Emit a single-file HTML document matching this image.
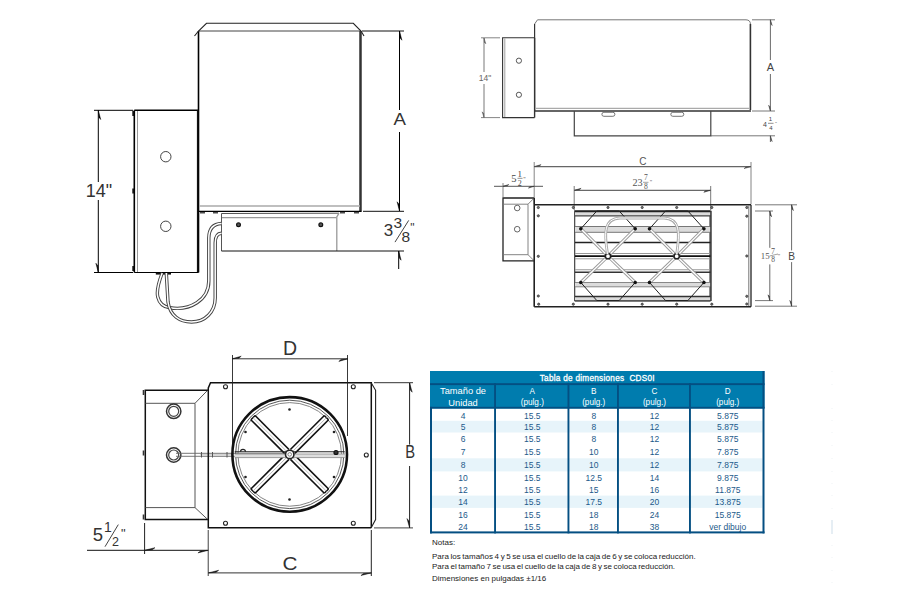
<!DOCTYPE html><html><head><meta charset="utf-8"><style>html,body{margin:0;padding:0;background:#fff;width:900px;height:598px;overflow:hidden}svg{display:block;font-family:"Liberation Sans",sans-serif}</style></head><body>
<svg width="900" height="598" viewBox="0 0 900 598">
<line x1="198.5" y1="31" x2="198.5" y2="272.5" stroke="#000" stroke-width="1.6" />
<line x1="360.5" y1="31" x2="360.5" y2="211.5" stroke="#333" stroke-width="2.5" />
<line x1="198.5" y1="31" x2="361" y2="31" stroke="#444" stroke-width="1" />
<path d="M194.5,36 L198.5,31 L206.5,23.3 L353.3,23.3 L361,31 L364,36" stroke="#222" stroke-width="1.1" fill="none" />
<line x1="199" y1="206" x2="360" y2="206" stroke="#aaa" stroke-width="1.5" />
<line x1="198" y1="211.4" x2="361.5" y2="211.4" stroke="#000" stroke-width="1.4" />
<line x1="200" y1="212.8" x2="205" y2="212.8" stroke="#222" stroke-width="1.2" />
<line x1="213" y1="212.8" x2="218" y2="212.8" stroke="#222" stroke-width="1.2" />
<line x1="340" y1="212.8" x2="345" y2="212.8" stroke="#222" stroke-width="1.2" />
<line x1="354" y1="212.8" x2="359" y2="212.8" stroke="#222" stroke-width="1.2" />
<path d="M221.5,251 L221.5,213.5 L339,213.2" stroke="#555" stroke-width="1" fill="none" />
<path d="M339,213.2 L336.8,217 L336.8,251" stroke="#999" stroke-width="1.3" fill="none" />
<line x1="222" y1="217.6" x2="336.5" y2="217.6" stroke="#999" stroke-width="1.3" />
<line x1="221.5" y1="251" x2="404" y2="251" stroke="#111" stroke-width="1" />
<circle cx="238.5" cy="224.8" r="1.9" stroke="#111" stroke-width="1.2" fill="#555"/>
<circle cx="320.8" cy="224.8" r="1.9" stroke="#111" stroke-width="1.2" fill="#555"/>
<line x1="363" y1="211.3" x2="404" y2="211.3" stroke="#111" stroke-width="1" />
<line x1="362" y1="31" x2="404" y2="31" stroke="#111" stroke-width="1" />
<line x1="399.5" y1="31" x2="399.5" y2="110" stroke="#000" stroke-width="1" />
<line x1="399.5" y1="132" x2="399.5" y2="211" stroke="#000" stroke-width="1" />
<polygon points="399.50,31.00 401.90,40.20 400.10,37.90" fill="#000" stroke="#000" stroke-width="0.5"/>
<polygon points="399.50,211.00 397.10,201.80 398.90,204.10" fill="#000" stroke="#000" stroke-width="0.5"/>
<g transform="translate(399.7,124.5) scale(1.08,1)"><text x="0" y="0" font-size="17.3" fill="#333" text-anchor="middle">A</text></g>
<line x1="398.7" y1="251" x2="398.7" y2="269" stroke="#000" stroke-width="1" />
<polygon points="398.70,251.00 401.10,260.20 399.30,257.90" fill="#000" stroke="#000" stroke-width="0.5"/>
<text x="388.6" y="236.4" font-size="17" fill="#333" text-anchor="middle" >3</text>
<text x="397.9" y="228.4" font-size="15.5" fill="#333" text-anchor="middle" >3</text>
<text x="405.9" y="242.4" font-size="15.5" fill="#333" text-anchor="middle" >8</text>
<line x1="395" y1="242.1" x2="408.7" y2="220.4" stroke="#444" stroke-width="1" />
<text x="412.5" y="232" font-size="12" fill="#333" text-anchor="middle" >"</text>
<line x1="134.3" y1="110.3" x2="198.5" y2="110.3" stroke="#000" stroke-width="1.4" />
<line x1="197.6" y1="110.3" x2="197.6" y2="272.5" stroke="#111" stroke-width="1.4" />
<line x1="134.3" y1="110.3" x2="134.3" y2="272.5" stroke="#000" stroke-width="1.6" />
<line x1="137.5" y1="111" x2="137.5" y2="272" stroke="#999" stroke-width="1" />
<line x1="134.3" y1="272.5" x2="198.5" y2="272.5" stroke="#000" stroke-width="1.2" />
<circle cx="165.8" cy="156.7" r="5.2" stroke="#444" stroke-width="1" fill="none"/>
<circle cx="165.8" cy="226.3" r="5.2" stroke="#444" stroke-width="1" fill="none"/>
<line x1="155.8" y1="273.8" x2="171" y2="273.8" stroke="#111" stroke-width="1.6" />
<line x1="133.2" y1="111.0" x2="133.2" y2="116.0" stroke="#111" stroke-width="1.8" />
<line x1="133.2" y1="188.5" x2="133.2" y2="193.5" stroke="#111" stroke-width="1.8" />
<line x1="133.2" y1="266.0" x2="133.2" y2="271.0" stroke="#111" stroke-width="1.8" />
<line x1="98.3" y1="110.3" x2="98.3" y2="182" stroke="#000" stroke-width="1" />
<line x1="98.3" y1="200" x2="98.3" y2="272.5" stroke="#000" stroke-width="1" />
<polygon points="98.30,110.30 100.70,119.50 98.90,117.20" fill="#000" stroke="#000" stroke-width="0.5"/>
<polygon points="98.30,272.50 95.90,263.30 97.70,265.60" fill="#000" stroke="#000" stroke-width="0.5"/>
<line x1="94" y1="110.3" x2="133" y2="110.3" stroke="#000" stroke-width="1" />
<line x1="94" y1="272.5" x2="133" y2="272.5" stroke="#000" stroke-width="1" />
<text x="99" y="197" font-size="18" fill="#333" text-anchor="middle" >14"</text>
<path d="M162.2,273 C158,284 156.5,292 157.8,297 C159.5,304 163,307 170,307.8 C190,311 208.8,300 208.8,281 L208.8,238 Q209,224 221.5,223.5" stroke="#444" stroke-width="3.4" fill="none" stroke-linecap="butt"/>
<path d="M162.2,273 C158,284 156.5,292 157.8,297 C159.5,304 163,307 170,307.8 C190,311 208.8,300 208.8,281 L208.8,238 Q209,224 221.5,223.5" stroke="#fff" stroke-width="1.5" fill="none" stroke-linecap="butt"/>
<path d="M166.3,273 L168,302 C170,316 180,322 191.5,322 C205,322 215.2,312 215.2,298 L215.2,243 Q215.2,233.5 221.5,233.3" stroke="#444" stroke-width="3.4" fill="none" stroke-linecap="butt"/>
<path d="M166.3,273 L168,302 C170,316 180,322 191.5,322 C205,322 215.2,312 215.2,298 L215.2,243 Q215.2,233.5 221.5,233.3" stroke="#fff" stroke-width="1.5" fill="none" stroke-linecap="butt"/>
<path d="M534.6,37.8 L502.6,37.8 L502.6,117.6 L534.6,117.6" stroke="#333" stroke-width="1.1" fill="none" />
<line x1="534.6" y1="37.8" x2="534.6" y2="117.6" stroke="#333" stroke-width="1.4" />
<line x1="504.8" y1="38.5" x2="504.8" y2="117" stroke="#888" stroke-width="0.8" />
<circle cx="518.9" cy="60.7" r="2.6" stroke="#444" stroke-width="0.9" fill="none"/>
<circle cx="518.9" cy="94.8" r="2.6" stroke="#444" stroke-width="0.9" fill="none"/>
<line x1="484" y1="38" x2="484" y2="72" stroke="#555" stroke-width="0.8" />
<line x1="484" y1="84" x2="484" y2="117.6" stroke="#555" stroke-width="0.8" />
<polygon points="484.00,38.00 485.80,43.75 484.45,42.31" fill="#555" stroke="#555" stroke-width="0.5"/>
<polygon points="484.00,117.60 482.20,111.85 483.55,113.29" fill="#555" stroke="#555" stroke-width="0.5"/>
<line x1="481" y1="37.8" x2="500" y2="37.8" stroke="#666" stroke-width="0.8" />
<line x1="481" y1="117.6" x2="500" y2="117.6" stroke="#666" stroke-width="0.8" />
<text x="485" y="81" font-size="8.5" fill="#666" text-anchor="middle" >14"</text>
<path d="M534.6,24 L537.5,19.8 L746,19.8 Q750.4,20 750.4,24" stroke="#777" stroke-width="1" fill="none" />
<line x1="534.6" y1="24" x2="534.6" y2="111" stroke="#333" stroke-width="1.2" />
<line x1="750.4" y1="24" x2="750.4" y2="110" stroke="#333" stroke-width="1.6" />
<line x1="535.5" y1="108.4" x2="749.5" y2="108.4" stroke="#aaa" stroke-width="1.3" />
<line x1="534.6" y1="111" x2="751" y2="111" stroke="#333" stroke-width="1.3" />
<path d="M574.3,111 L574.3,135.8 L710.8,135.8 L710.8,111" stroke="#444" stroke-width="1.2" fill="none" />
<rect x="601.9" y="112.3" width="13" height="4" rx="2" fill="none" stroke="#666" stroke-width="0.9"/>
<rect x="670.8" y="112.3" width="13" height="4" rx="2" fill="none" stroke="#666" stroke-width="0.9"/>
<line x1="752" y1="19.8" x2="775" y2="19.8" stroke="#555" stroke-width="0.8" />
<line x1="752" y1="111" x2="775" y2="111" stroke="#555" stroke-width="0.8" />
<line x1="711" y1="135.8" x2="775" y2="135.8" stroke="#555" stroke-width="0.8" />
<line x1="770.4" y1="19.8" x2="770.4" y2="60" stroke="#444" stroke-width="0.8" />
<line x1="770.4" y1="74" x2="770.4" y2="111" stroke="#444" stroke-width="0.8" />
<polygon points="770.40,19.80 772.20,25.55 770.85,24.11" fill="#444" stroke="#444" stroke-width="0.5"/>
<polygon points="770.40,111.00 768.60,105.25 769.95,106.69" fill="#444" stroke="#444" stroke-width="0.5"/>
<text x="770.4" y="71" font-size="11" fill="#444" text-anchor="middle" >A</text>
<line x1="770.4" y1="135.8" x2="770.4" y2="142" stroke="#444" stroke-width="0.8" />
<polygon points="770.40,135.80 772.20,141.55 770.85,140.11" fill="#444" stroke="#444" stroke-width="0.5"/>
<text x="765" y="126.5" font-size="7" fill="#444" text-anchor="middle" >4</text>
<text x="770.5" y="121" font-size="6" fill="#444" text-anchor="middle" >1</text>
<line x1="768" y1="123.3" x2="773.5" y2="123.3" stroke="#444" stroke-width="0.6" />
<text x="771" y="129.5" font-size="6" fill="#444" text-anchor="middle" >4</text>
<text x="776" y="124" font-size="6" fill="#444" text-anchor="middle" >-</text>
<path d="M534.2,198 L503,198 L503,260.8 L534.2,260.8" stroke="#222" stroke-width="1.3" fill="none" />
<path d="M503,204.2 L528,204.2 L534.2,198 M528,204.2 L528,254.7 L534.2,260.8 M503,254.7 L528,254.7" stroke="#777" stroke-width="0.9" fill="none" />
<circle cx="517.2" cy="208" r="2.8" stroke="#555" stroke-width="0.9" fill="none"/>
<circle cx="517.2" cy="229.2" r="2.8" stroke="#555" stroke-width="0.9" fill="none"/>
<line x1="494" y1="186.3" x2="543" y2="186.3" stroke="#444" stroke-width="0.9" />
<line x1="503" y1="183" x2="503" y2="197" stroke="#666" stroke-width="0.8" />
<line x1="534.2" y1="162" x2="534.2" y2="204" stroke="#666" stroke-width="0.8" />
<polygon points="503.00,186.30 508.75,184.50 507.31,185.85" fill="#333" stroke="#333" stroke-width="0.5"/>
<polygon points="534.20,186.30 528.45,188.10 529.89,186.75" fill="#333" stroke="#333" stroke-width="0.5"/>
<g font-family="Liberation Serif" fill="#444">
<text x="513.8" y="182.2" font-size="10.5" fill="#444" text-anchor="middle" >5</text>
<text x="519.8" y="177.3" font-size="9" fill="#444" text-anchor="middle" >1</text>
<line x1="517.5" y1="178.3" x2="522.5" y2="178.3" stroke="#444" stroke-width="0.6" />
<text x="519.8" y="185.5" font-size="8" fill="#444" text-anchor="middle" >2</text>
<text x="524.5" y="181" font-size="6" fill="#444" text-anchor="middle" >"</text>
</g>
<line x1="534.2" y1="166.6" x2="751" y2="166.6" stroke="#666" stroke-width="1.1" />
<polygon points="534.20,166.60 541.10,164.60 539.38,166.10" fill="#444" stroke="#444" stroke-width="0.5"/>
<polygon points="751.00,166.60 744.10,168.60 745.83,167.10" fill="#444" stroke="#444" stroke-width="0.5"/>
<line x1="751" y1="162" x2="751" y2="204" stroke="#666" stroke-width="0.8" />
<text x="642.8" y="164.7" font-size="10" fill="#555" text-anchor="middle" >C</text>
<line x1="574.2" y1="190.3" x2="710.7" y2="190.3" stroke="#444" stroke-width="1" />
<polygon points="574.20,190.30 581.10,188.30 579.38,189.80" fill="#333" stroke="#333" stroke-width="0.5"/>
<polygon points="710.70,190.30 703.80,192.30 705.53,190.80" fill="#333" stroke="#333" stroke-width="0.5"/>
<line x1="574.2" y1="186" x2="574.2" y2="210" stroke="#555" stroke-width="0.8" />
<line x1="710.7" y1="186" x2="710.7" y2="210" stroke="#555" stroke-width="0.8" />
<g font-family="Liberation Serif">
<text x="637.6" y="186" font-size="10.2" fill="#555" text-anchor="middle" >23</text>
<text x="646" y="180.2" font-size="7.6" fill="#555" text-anchor="middle" >7</text>
<line x1="643" y1="182.3" x2="648.5" y2="182.3" stroke="#666" stroke-width="0.6" />
<text x="646" y="188.7" font-size="7.6" fill="#555" text-anchor="middle" >8</text>
<text x="651" y="184" font-size="6" fill="#555" text-anchor="middle" >"</text>
</g>
<line x1="534.2" y1="204.8" x2="751" y2="204.8" stroke="#222" stroke-width="1.4" />
<line x1="534.2" y1="306.8" x2="751" y2="306.8" stroke="#222" stroke-width="1.4" />
<line x1="534.2" y1="198" x2="534.2" y2="306.8" stroke="#222" stroke-width="1.6" />
<line x1="751" y1="204.8" x2="751" y2="306.8" stroke="#222" stroke-width="1.3" />
<line x1="748.8" y1="205.5" x2="748.8" y2="306" stroke="#666" stroke-width="0.9" />
<circle cx="538.3" cy="207.5" r="1.1" stroke="#333" stroke-width="0.8" fill="#777"/>
<circle cx="538.3" cy="215.8" r="1.1" stroke="#333" stroke-width="0.8" fill="#777"/>
<circle cx="538.3" cy="256.3" r="1.1" stroke="#333" stroke-width="0.8" fill="#777"/>
<circle cx="538.3" cy="296" r="1.1" stroke="#333" stroke-width="0.8" fill="#777"/>
<circle cx="538.7" cy="304.2" r="1.1" stroke="#333" stroke-width="0.8" fill="#777"/>
<circle cx="573.3" cy="207.5" r="1.1" stroke="#333" stroke-width="0.8" fill="#777"/>
<circle cx="608" cy="207.5" r="1.1" stroke="#333" stroke-width="0.8" fill="#777"/>
<circle cx="642.2" cy="207.5" r="1.1" stroke="#333" stroke-width="0.8" fill="#777"/>
<circle cx="676.7" cy="207.5" r="1.1" stroke="#333" stroke-width="0.8" fill="#777"/>
<circle cx="711.8" cy="207.5" r="1.1" stroke="#333" stroke-width="0.8" fill="#777"/>
<circle cx="746.8" cy="207.5" r="1.1" stroke="#333" stroke-width="0.8" fill="#777"/>
<circle cx="746.8" cy="216.2" r="1.1" stroke="#333" stroke-width="0.8" fill="#777"/>
<circle cx="746.8" cy="256" r="1.1" stroke="#333" stroke-width="0.8" fill="#777"/>
<circle cx="746.8" cy="296.3" r="1.1" stroke="#333" stroke-width="0.8" fill="#777"/>
<circle cx="746.8" cy="304" r="1.1" stroke="#333" stroke-width="0.8" fill="#777"/>
<circle cx="573.3" cy="304.2" r="1.1" stroke="#333" stroke-width="0.8" fill="#777"/>
<circle cx="608" cy="304.2" r="1.1" stroke="#333" stroke-width="0.8" fill="#777"/>
<circle cx="642.2" cy="304.2" r="1.1" stroke="#333" stroke-width="0.8" fill="#777"/>
<circle cx="676.7" cy="304.2" r="1.1" stroke="#333" stroke-width="0.8" fill="#777"/>
<circle cx="711.8" cy="304.2" r="1.1" stroke="#333" stroke-width="0.8" fill="#777"/>
<path d="M574.7,210.8 L710,210.8 L710,300.8 L574.7,300.8 Z" stroke="#333" stroke-width="1.1" fill="none" />
<rect x="575" y="226.5" width="135.5" height="5.800000000000011" fill="#dcdcdc"/>
<rect x="575" y="282.5" width="135.5" height="4.300000000000011" fill="#dcdcdc"/>
<rect x="575" y="296.5" width="135.5" height="4.300000000000011" fill="#dcdcdc"/>
<rect x="575" y="212" width="135.5" height="3.8000000000000114" fill="#dcdcdc"/>
<line x1="575" y1="211.6" x2="710.5" y2="211.6" stroke="#222" stroke-width="1.5" />
<line x1="575" y1="215.8" x2="710.5" y2="215.8" stroke="#444" stroke-width="1.2" />
<line x1="575" y1="226.5" x2="710.5" y2="226.5" stroke="#777" stroke-width="1" />
<line x1="575" y1="232.3" x2="710.5" y2="232.3" stroke="#777" stroke-width="1" />
<line x1="575" y1="242.6" x2="710.5" y2="242.6" stroke="#222" stroke-width="1.5" />
<line x1="575" y1="253.5" x2="710.5" y2="253.5" stroke="#999" stroke-width="1" />
<line x1="575" y1="256.1" x2="710.5" y2="256.1" stroke="#111" stroke-width="1.6" />
<line x1="575" y1="258.8" x2="710.5" y2="258.8" stroke="#999" stroke-width="1" />
<line x1="575" y1="269.8" x2="710.5" y2="269.8" stroke="#999" stroke-width="1.1" />
<line x1="575" y1="272.3" x2="710.5" y2="272.3" stroke="#333" stroke-width="1.4" />
<line x1="575" y1="282.5" x2="710.5" y2="282.5" stroke="#888" stroke-width="1" />
<line x1="575" y1="286.8" x2="710.5" y2="286.8" stroke="#888" stroke-width="1" />
<line x1="575" y1="296.5" x2="710.5" y2="296.5" stroke="#333" stroke-width="1.5" />
<line x1="575" y1="300.8" x2="710.5" y2="300.8" stroke="#333" stroke-width="1.2" />
<line x1="711" y1="210.8" x2="711" y2="301" stroke="#222" stroke-width="1.3" />
<path d="M580.8,228.8 L608,256.2" stroke="#999" stroke-width="3.2" fill="none" />
<path d="M580.8,228.8 L608,256.2" stroke="#fff" stroke-width="1.3" fill="none" />
<path d="M635.2,228.8 L608,256.2" stroke="#999" stroke-width="3.2" fill="none" />
<path d="M635.2,228.8 L608,256.2" stroke="#fff" stroke-width="1.3" fill="none" />
<path d="M580.8,282.5 L608,256.2" stroke="#999" stroke-width="3.2" fill="none" />
<path d="M580.8,282.5 L608,256.2" stroke="#fff" stroke-width="1.3" fill="none" />
<path d="M635.2,282.5 L608,256.2" stroke="#999" stroke-width="3.2" fill="none" />
<path d="M635.2,282.5 L608,256.2" stroke="#fff" stroke-width="1.3" fill="none" />
<path d="M580.8,228.8 L596.8,211 L619.2,211 L635.2,228.8" stroke="#222" stroke-width="1" fill="none" />
<path d="M580.8,282.5 L596.8,300.5 L619.2,300.5 L635.2,282.5" stroke="#222" stroke-width="1" fill="none" />
<circle cx="580.8" cy="228.8" r="1.8" stroke="#000" stroke-width="0" fill="#111"/>
<circle cx="635.2" cy="228.8" r="1.8" stroke="#000" stroke-width="0" fill="#111"/>
<circle cx="580.8" cy="282.5" r="1.8" stroke="#000" stroke-width="0" fill="#111"/>
<circle cx="635.2" cy="282.5" r="1.8" stroke="#000" stroke-width="0" fill="#111"/>
<circle cx="608" cy="256.2" r="2.6" stroke="#222" stroke-width="1.5" fill="#fff"/>
<path d="M649.5,228.8 L676.7,256.2" stroke="#999" stroke-width="3.2" fill="none" />
<path d="M649.5,228.8 L676.7,256.2" stroke="#fff" stroke-width="1.3" fill="none" />
<path d="M703.9000000000001,228.8 L676.7,256.2" stroke="#999" stroke-width="3.2" fill="none" />
<path d="M703.9000000000001,228.8 L676.7,256.2" stroke="#fff" stroke-width="1.3" fill="none" />
<path d="M649.5,282.5 L676.7,256.2" stroke="#999" stroke-width="3.2" fill="none" />
<path d="M649.5,282.5 L676.7,256.2" stroke="#fff" stroke-width="1.3" fill="none" />
<path d="M703.9000000000001,282.5 L676.7,256.2" stroke="#999" stroke-width="3.2" fill="none" />
<path d="M703.9000000000001,282.5 L676.7,256.2" stroke="#fff" stroke-width="1.3" fill="none" />
<path d="M649.5,228.8 L665.5,211 L687.9000000000001,211 L703.9000000000001,228.8" stroke="#222" stroke-width="1" fill="none" />
<path d="M649.5,282.5 L665.5,300.5 L687.9000000000001,300.5 L703.9000000000001,282.5" stroke="#222" stroke-width="1" fill="none" />
<circle cx="649.5" cy="228.8" r="1.8" stroke="#000" stroke-width="0" fill="#111"/>
<circle cx="703.9000000000001" cy="228.8" r="1.8" stroke="#000" stroke-width="0" fill="#111"/>
<circle cx="649.5" cy="282.5" r="1.8" stroke="#000" stroke-width="0" fill="#111"/>
<circle cx="703.9000000000001" cy="282.5" r="1.8" stroke="#000" stroke-width="0" fill="#111"/>
<circle cx="676.7" cy="256.2" r="2.6" stroke="#222" stroke-width="1.5" fill="#fff"/>
<path d="M607.5,254 C604,232 604,219 620,218 L664,218 C680,219 680,232 676.7,254" stroke="#aaa" stroke-width="2.8" fill="none" />
<path d="M607.5,254 C604,232 604,219 620,218 L664,218 C680,219 680,232 676.7,254" stroke="#fff" stroke-width="1" fill="none" />
<line x1="755" y1="211" x2="773" y2="211" stroke="#555" stroke-width="0.8" />
<line x1="755" y1="300.6" x2="773" y2="300.6" stroke="#555" stroke-width="0.8" />
<line x1="769.8" y1="211" x2="769.8" y2="247.8" stroke="#444" stroke-width="0.8" />
<line x1="769.8" y1="264.4" x2="769.8" y2="300.6" stroke="#444" stroke-width="0.8" />
<polygon points="769.80,211.00 771.60,216.75 770.25,215.31" fill="#333" stroke="#333" stroke-width="0.5"/>
<polygon points="769.80,300.60 768.00,294.85 769.35,296.29" fill="#333" stroke="#333" stroke-width="0.5"/>
<g font-family="Liberation Serif">
<text x="765.2" y="258.7" font-size="8.8" fill="#555" text-anchor="middle" >15</text>
<text x="773" y="254" font-size="8" fill="#555" text-anchor="middle" >7</text>
<line x1="769.5" y1="256" x2="778" y2="254" stroke="#666" stroke-width="0.6" />
<text x="773" y="262.3" font-size="7.5" fill="#555" text-anchor="middle" >8</text>
<text x="779" y="257.5" font-size="6" fill="#555" text-anchor="middle" >"</text>
</g>
<line x1="755" y1="204.8" x2="797" y2="204.8" stroke="#555" stroke-width="0.8" />
<line x1="755" y1="306.2" x2="797" y2="306.2" stroke="#555" stroke-width="0.8" />
<line x1="791.6" y1="204.8" x2="791.6" y2="250.4" stroke="#444" stroke-width="0.8" />
<line x1="791.6" y1="262.1" x2="791.6" y2="306.2" stroke="#444" stroke-width="0.8" />
<polygon points="791.60,204.80 793.40,210.55 792.05,209.11" fill="#333" stroke="#333" stroke-width="0.5"/>
<polygon points="791.60,306.20 789.80,300.45 791.15,301.89" fill="#333" stroke="#333" stroke-width="0.5"/>
<text x="791.6" y="259.8" font-size="10.2" fill="#444" text-anchor="middle" >B</text>
<path d="M208,390.3 L145.3,390.3 L145.3,519.6 L208,519.6" stroke="#111" stroke-width="1.5" fill="none" />
<path d="M145.5,403.3 L195,403.3 L207.3,390.6 M195,403.3 L195,507.6 L207.5,519.3 M145.5,507.6 L195,507.6" stroke="#555" stroke-width="1" fill="none" />
<line x1="143.5" y1="390.0" x2="143.5" y2="395.0" stroke="#333" stroke-width="1.6" />
<line x1="143.5" y1="450.5" x2="143.5" y2="455.5" stroke="#333" stroke-width="1.6" />
<line x1="143.5" y1="514.5" x2="143.5" y2="519.5" stroke="#333" stroke-width="1.6" />
<circle cx="173.7" cy="411.3" r="7.2" stroke="#333" stroke-width="1.5" fill="#fff"/>
<circle cx="173.7" cy="411.3" r="5" stroke="#444" stroke-width="1.2" fill="#fff"/>
<circle cx="173.7" cy="455" r="7.2" stroke="#333" stroke-width="1.5" fill="#fff"/>
<circle cx="173.7" cy="455" r="5" stroke="#444" stroke-width="1.2" fill="#fff"/>
<path d="M176,453.3 L290,453.3 M176,456.3 L290,456.3" stroke="#666" stroke-width="0.9" fill="none" />
<path d="M200,454.8 L232,454.8" stroke="#999" stroke-width="0.6" fill="none" />
<line x1="201.5" y1="452" x2="201.5" y2="457.5" stroke="#555" stroke-width="1" />
<line x1="212.5" y1="452" x2="212.5" y2="457.5" stroke="#555" stroke-width="1" />
<line x1="227" y1="452" x2="227" y2="457.5" stroke="#555" stroke-width="1" />
<path d="M371.3,527.8 L208.3,527.8 L208.3,388 L210.5,382.8 L371.3,382.8 L371.3,527.8" stroke="#111" stroke-width="1.5" fill="none" />
<path d="M371.3,383 L375.6,390.3 L375.6,519.6 L371.3,527.6" stroke="#222" stroke-width="1.1" fill="none" />
<circle cx="225.5" cy="386.8" r="2" stroke="#222" stroke-width="1.1" fill="#fff"/>
<circle cx="353.3" cy="386.8" r="2" stroke="#222" stroke-width="1.1" fill="#fff"/>
<circle cx="225.5" cy="523.3" r="2" stroke="#222" stroke-width="1.1" fill="#fff"/>
<circle cx="353.3" cy="523.3" r="2" stroke="#222" stroke-width="1.1" fill="#fff"/>
<circle cx="366.3" cy="455" r="2" stroke="#222" stroke-width="1.1" fill="#fff"/>
<line x1="232.5" y1="355" x2="232.5" y2="454" stroke="#222" stroke-width="0.9" />
<line x1="347.5" y1="355" x2="347.5" y2="436" stroke="#222" stroke-width="0.9" />
<circle cx="289.7" cy="454.4" r="57.3" stroke="#111" stroke-width="2.6" fill="none"/>
<circle cx="289.7" cy="454.4" r="54.2" stroke="#444" stroke-width="0.9" fill="none"/>
<circle cx="289.7" cy="454.4" r="51.8" stroke="#777" stroke-width="0.9" fill="none"/>
<line x1="294.65" y1="455.11" x2="328.59" y2="489.05" stroke="#111" stroke-width="1.6" />
<line x1="290.41" y1="459.35" x2="324.35" y2="493.29" stroke="#111" stroke-width="1.6" />
<line x1="324.35" y1="493.29" x2="328.59" y2="489.05" stroke="#111" stroke-width="1.4" />
<line x1="292.53" y1="457.23" x2="326.47" y2="491.17" stroke="#bbb" stroke-width="1" />
<line x1="288.99" y1="459.35" x2="255.05" y2="493.29" stroke="#111" stroke-width="1.6" />
<line x1="284.75" y1="455.11" x2="250.81" y2="489.05" stroke="#111" stroke-width="1.6" />
<line x1="250.81" y1="489.05" x2="255.05" y2="493.29" stroke="#111" stroke-width="1.4" />
<line x1="286.87" y1="457.23" x2="252.93" y2="491.17" stroke="#bbb" stroke-width="1" />
<line x1="284.75" y1="453.69" x2="250.81" y2="419.75" stroke="#111" stroke-width="1.6" />
<line x1="288.99" y1="449.45" x2="255.05" y2="415.51" stroke="#111" stroke-width="1.6" />
<line x1="255.05" y1="415.51" x2="250.81" y2="419.75" stroke="#111" stroke-width="1.4" />
<line x1="286.87" y1="451.57" x2="252.93" y2="417.63" stroke="#bbb" stroke-width="1" />
<line x1="290.41" y1="449.45" x2="324.35" y2="415.51" stroke="#111" stroke-width="1.6" />
<line x1="294.65" y1="453.69" x2="328.59" y2="419.75" stroke="#111" stroke-width="1.6" />
<line x1="328.59" y1="419.75" x2="324.35" y2="415.51" stroke="#111" stroke-width="1.4" />
<line x1="292.53" y1="451.57" x2="326.47" y2="417.63" stroke="#bbb" stroke-width="1" />
<rect x="234.7" y="454" width="110" height="3.6" fill="#dedede"/>
<path d="M234.7,451.8 L344.7,451.8" stroke="#222" stroke-width="1.1" fill="none" />
<path d="M234.7,454 L344.7,454 M234.7,457.6 L344.7,457.6" stroke="#888" stroke-width="0.8" fill="none" />
<circle cx="289.7" cy="454.4" r="4.2" stroke="#222" stroke-width="1.6" fill="#fff"/>
<circle cx="289.7" cy="454.4" r="1.8" stroke="#666" stroke-width="0.8" fill="#fff"/>
<path d="M240.5,451.8 A2.4,2.4 0 0 1 245.5,451.8" stroke="#222" stroke-width="1.2" fill="none" />
<circle cx="336" cy="452.5" r="2" stroke="#111" stroke-width="1.2" fill="#333"/>
<circle cx="289.5" cy="409.5" r="1.3" stroke="#000" stroke-width="0" fill="#222"/>
<circle cx="245.5" cy="432" r="1.3" stroke="#000" stroke-width="0" fill="#222"/>
<circle cx="334" cy="432" r="1.3" stroke="#000" stroke-width="0" fill="#222"/>
<circle cx="245.5" cy="477" r="1.3" stroke="#000" stroke-width="0" fill="#222"/>
<circle cx="334" cy="477" r="1.3" stroke="#000" stroke-width="0" fill="#222"/>
<circle cx="289.5" cy="499.5" r="1.3" stroke="#000" stroke-width="0" fill="#222"/>
<line x1="232" y1="358.8" x2="348" y2="358.8" stroke="#333" stroke-width="1" />
<polygon points="232.00,358.80 241.20,356.20 238.90,358.15" fill="#111" stroke="#111" stroke-width="0.5"/>
<polygon points="348.00,358.80 338.80,361.40 341.10,359.45" fill="#111" stroke="#111" stroke-width="0.5"/>
<text x="290" y="354.7" font-size="19.5" fill="#333" text-anchor="middle" >D</text>
<line x1="374" y1="382.7" x2="413" y2="382.7" stroke="#333" stroke-width="1" />
<line x1="374" y1="527.9" x2="413" y2="527.9" stroke="#444" stroke-width="1" />
<line x1="409.6" y1="383" x2="409.6" y2="444.6" stroke="#222" stroke-width="1" />
<line x1="409.6" y1="466" x2="409.6" y2="527.8" stroke="#222" stroke-width="1" />
<polygon points="409.60,383.00 412.20,392.20 410.25,389.90" fill="#111" stroke="#111" stroke-width="0.5"/>
<polygon points="409.60,527.80 407.00,518.60 408.95,520.90" fill="#111" stroke="#111" stroke-width="0.5"/>
<g transform="translate(410.1,457.6) scale(0.82,1)"><text x="0" y="0" font-size="18" fill="#333" text-anchor="middle">B</text></g>
<line x1="87" y1="550.3" x2="208.3" y2="550.3" stroke="#111" stroke-width="1" />
<line x1="144.6" y1="523" x2="144.6" y2="554" stroke="#222" stroke-width="1" />
<line x1="208.3" y1="530" x2="208.3" y2="576" stroke="#777" stroke-width="1.4" />
<polygon points="144.60,550.30 154.95,547.70 152.36,549.65" fill="#111" stroke="#111" stroke-width="0.5"/>
<polygon points="208.30,550.30 197.95,552.90 200.54,550.95" fill="#111" stroke="#111" stroke-width="0.5"/>
<text x="98" y="541" font-size="18.5" fill="#333" text-anchor="middle" >5</text>
<text x="107.8" y="531.6" font-size="14" fill="#333" text-anchor="middle" >1</text>
<line x1="105" y1="546.7" x2="118.3" y2="524.6" stroke="#444" stroke-width="1" />
<text x="115.5" y="546" font-size="12.5" fill="#333" text-anchor="middle" >2</text>
<text x="123.4" y="537.5" font-size="13" fill="#333" text-anchor="middle" >"</text>
<line x1="371.3" y1="530" x2="371.3" y2="576" stroke="#222" stroke-width="1" />
<line x1="208.3" y1="572.9" x2="371.3" y2="572.9" stroke="#333" stroke-width="1" />
<polygon points="208.30,572.90 218.65,570.30 216.06,572.25" fill="#111" stroke="#111" stroke-width="0.5"/>
<polygon points="371.30,572.90 360.95,575.50 363.54,573.55" fill="#111" stroke="#111" stroke-width="0.5"/>
<g transform="translate(290.1,569.7) scale(1.12,1)"><text x="0" y="0" font-size="18.5" fill="#333" text-anchor="middle">C</text></g>
<rect x="430" y="371" width="334.5" height="37.5" fill="#007cae"/>
<rect x="430" y="383.2" width="334.5" height="1.9" fill="#044f82"/>
<rect x="430" y="406.8" width="334.5" height="1.8" fill="#044f82"/>
<text x="463.05" y="418.6" font-size="8.5" fill="#1c5a8a" text-anchor="middle" >4</text>
<text x="532.3" y="418.6" font-size="8.5" fill="#1c5a8a" text-anchor="middle" >15.5</text>
<text x="593.75" y="418.6" font-size="8.5" fill="#1c5a8a" text-anchor="middle" >8</text>
<text x="654.5" y="418.6" font-size="8.5" fill="#1c5a8a" text-anchor="middle" >12</text>
<text x="727.75" y="418.6" font-size="8.5" fill="#1c5a8a" text-anchor="middle" >5.875</text>
<rect x="432" y="420.80" width="330.5" height="11.70" fill="#e7f4fa"/>
<text x="463.05" y="430.2" font-size="8.5" fill="#1c5a8a" text-anchor="middle" >5</text>
<text x="532.3" y="430.2" font-size="8.5" fill="#1c5a8a" text-anchor="middle" >15.5</text>
<text x="593.75" y="430.2" font-size="8.5" fill="#1c5a8a" text-anchor="middle" >8</text>
<text x="654.5" y="430.2" font-size="8.5" fill="#1c5a8a" text-anchor="middle" >12</text>
<text x="727.75" y="430.2" font-size="8.5" fill="#1c5a8a" text-anchor="middle" >5.875</text>
<text x="463.05" y="442.3" font-size="8.5" fill="#1c5a8a" text-anchor="middle" >6</text>
<text x="532.3" y="442.3" font-size="8.5" fill="#1c5a8a" text-anchor="middle" >15.5</text>
<text x="593.75" y="442.3" font-size="8.5" fill="#1c5a8a" text-anchor="middle" >8</text>
<text x="654.5" y="442.3" font-size="8.5" fill="#1c5a8a" text-anchor="middle" >12</text>
<text x="727.75" y="442.3" font-size="8.5" fill="#1c5a8a" text-anchor="middle" >5.875</text>
<text x="463.05" y="454.8" font-size="8.5" fill="#1c5a8a" text-anchor="middle" >7</text>
<text x="532.3" y="454.8" font-size="8.5" fill="#1c5a8a" text-anchor="middle" >15.5</text>
<text x="593.75" y="454.8" font-size="8.5" fill="#1c5a8a" text-anchor="middle" >10</text>
<text x="654.5" y="454.8" font-size="8.5" fill="#1c5a8a" text-anchor="middle" >12</text>
<text x="727.75" y="454.8" font-size="8.5" fill="#1c5a8a" text-anchor="middle" >7.875</text>
<rect x="432" y="458.30" width="330.5" height="13.10" fill="#e7f4fa"/>
<text x="463.05" y="468.0" font-size="8.5" fill="#1c5a8a" text-anchor="middle" >8</text>
<text x="532.3" y="468.0" font-size="8.5" fill="#1c5a8a" text-anchor="middle" >15.5</text>
<text x="593.75" y="468.0" font-size="8.5" fill="#1c5a8a" text-anchor="middle" >10</text>
<text x="654.5" y="468.0" font-size="8.5" fill="#1c5a8a" text-anchor="middle" >12</text>
<text x="727.75" y="468.0" font-size="8.5" fill="#1c5a8a" text-anchor="middle" >7.875</text>
<text x="463.05" y="481.2" font-size="8.5" fill="#1c5a8a" text-anchor="middle" >10</text>
<text x="532.3" y="481.2" font-size="8.5" fill="#1c5a8a" text-anchor="middle" >15.5</text>
<text x="593.75" y="481.2" font-size="8.5" fill="#1c5a8a" text-anchor="middle" >12.5</text>
<text x="654.5" y="481.2" font-size="8.5" fill="#1c5a8a" text-anchor="middle" >14</text>
<text x="727.75" y="481.2" font-size="8.5" fill="#1c5a8a" text-anchor="middle" >9.875</text>
<text x="463.05" y="492.9" font-size="8.5" fill="#1c5a8a" text-anchor="middle" >12</text>
<text x="532.3" y="492.9" font-size="8.5" fill="#1c5a8a" text-anchor="middle" >15.5</text>
<text x="593.75" y="492.9" font-size="8.5" fill="#1c5a8a" text-anchor="middle" >15</text>
<text x="654.5" y="492.9" font-size="8.5" fill="#1c5a8a" text-anchor="middle" >16</text>
<text x="727.75" y="492.9" font-size="8.5" fill="#1c5a8a" text-anchor="middle" >11.875</text>
<rect x="432" y="495.60" width="330.5" height="12.30" fill="#e7f4fa"/>
<text x="463.05" y="505.1" font-size="8.5" fill="#1c5a8a" text-anchor="middle" >14</text>
<text x="532.3" y="505.1" font-size="8.5" fill="#1c5a8a" text-anchor="middle" >15.5</text>
<text x="593.75" y="505.1" font-size="8.5" fill="#1c5a8a" text-anchor="middle" >17.5</text>
<text x="654.5" y="505.1" font-size="8.5" fill="#1c5a8a" text-anchor="middle" >20</text>
<text x="727.75" y="505.1" font-size="8.5" fill="#1c5a8a" text-anchor="middle" >13.875</text>
<text x="463.05" y="517.7" font-size="8.5" fill="#1c5a8a" text-anchor="middle" >16</text>
<text x="532.3" y="517.7" font-size="8.5" fill="#1c5a8a" text-anchor="middle" >15.5</text>
<text x="593.75" y="517.7" font-size="8.5" fill="#1c5a8a" text-anchor="middle" >18</text>
<text x="654.5" y="517.7" font-size="8.5" fill="#1c5a8a" text-anchor="middle" >24</text>
<text x="727.75" y="517.7" font-size="8.5" fill="#1c5a8a" text-anchor="middle" >15.875</text>
<text x="463.05" y="530.4" font-size="8.5" fill="#1c5a8a" text-anchor="middle" >24</text>
<text x="532.3" y="530.4" font-size="8.5" fill="#1c5a8a" text-anchor="middle" >15.5</text>
<text x="593.75" y="530.4" font-size="8.5" fill="#1c5a8a" text-anchor="middle" >18</text>
<text x="654.5" y="530.4" font-size="8.5" fill="#1c5a8a" text-anchor="middle" >38</text>
<text x="727.75" y="530.4" font-size="8.5" fill="#1c5a8a" text-anchor="middle" >ver dibujo</text>
<rect x="494.1" y="383.2" width="1.9" height="150.2" fill="#044f82"/>
<rect x="567.5" y="383.2" width="1.9" height="150.2" fill="#044f82"/>
<rect x="617" y="383.2" width="1.9" height="150.2" fill="#044f82"/>
<rect x="689" y="383.2" width="1.9" height="150.2" fill="#044f82"/>
<rect x="430" y="406.8" width="2" height="126.6" fill="#044f82"/>
<rect x="762.5" y="371" width="2" height="162.4" fill="#044f82"/>
<rect x="430" y="531.4" width="334.5" height="2" fill="#044f82"/>
<text x="597.3" y="381" font-size="8.2" fill="#fff" text-anchor="middle" stroke="#fff" stroke-width="0.3" letter-spacing="0.27">Tabla de dimensiones&#160; CDS0I</text>
<text x="463" y="394.3" font-size="9.3" fill="#fff" text-anchor="middle" >Tamaño de</text>
<text x="463" y="405.5" font-size="9.3" fill="#fff" text-anchor="middle" >Unidad</text>
<text x="532.3" y="394.2" font-size="8.2" fill="#fff" text-anchor="middle" >A</text>
<text x="532.3" y="405" font-size="8.2" fill="#fff" text-anchor="middle" >(pulg.)</text>
<text x="593.75" y="394.2" font-size="8.2" fill="#fff" text-anchor="middle" >B</text>
<text x="593.75" y="405" font-size="8.2" fill="#fff" text-anchor="middle" >(pulg.)</text>
<text x="654.5" y="394.2" font-size="8.2" fill="#fff" text-anchor="middle" >C</text>
<text x="654.5" y="405" font-size="8.2" fill="#fff" text-anchor="middle" >(pulg.)</text>
<text x="727.75" y="394.2" font-size="8.2" fill="#fff" text-anchor="middle" >D</text>
<text x="727.75" y="405" font-size="8.2" fill="#fff" text-anchor="middle" >(pulg.)</text>
<text x="432" y="544.5" font-size="8" fill="#222" text-anchor="start" >Notas:</text>
<text x="432" y="559" font-size="8" fill="#222" text-anchor="start" word-spacing="-0.62">Para los tamaños 4 y 5 se usa el cuello de la caja de 6 y se coloca reducción.</text>
<text x="432" y="569" font-size="8" fill="#222" text-anchor="start" word-spacing="-0.68">Para el tamaño 7 se usa el cuello de la caja de 8 y se coloca reducción.</text>
<text x="432" y="581" font-size="8" fill="#222" text-anchor="start" >Dimensiones en pulgadas ±1/16</text>
<rect x="831" y="520" width="2" height="14" fill="#e6eef4"/>
<rect x="831.5" y="371" width="1" height="1" fill="#eef2f5"/>
<rect x="831.5" y="384" width="1" height="1" fill="#eef2f5"/>
<rect x="831.5" y="408" width="1" height="1" fill="#eef2f5"/>
<rect x="831.5" y="420" width="1" height="1" fill="#eef2f5"/>
<rect x="831.5" y="432" width="1" height="1" fill="#eef2f5"/>
<rect x="831.5" y="445" width="1" height="1" fill="#eef2f5"/>
<rect x="831.5" y="458" width="1" height="1" fill="#eef2f5"/>
<rect x="831.5" y="471" width="1" height="1" fill="#eef2f5"/>
<rect x="831.5" y="483" width="1" height="1" fill="#eef2f5"/>
<rect x="831.5" y="495" width="1" height="1" fill="#eef2f5"/>
<rect x="831.5" y="508" width="1" height="1" fill="#eef2f5"/>
<rect x="831.5" y="545" width="1" height="1" fill="#eef2f5"/>
<rect x="831.5" y="557" width="1" height="1" fill="#eef2f5"/>
<rect x="831.5" y="570" width="1" height="1" fill="#eef2f5"/>
<rect x="831.5" y="582" width="1" height="1" fill="#eef2f5"/>
</svg></body></html>
